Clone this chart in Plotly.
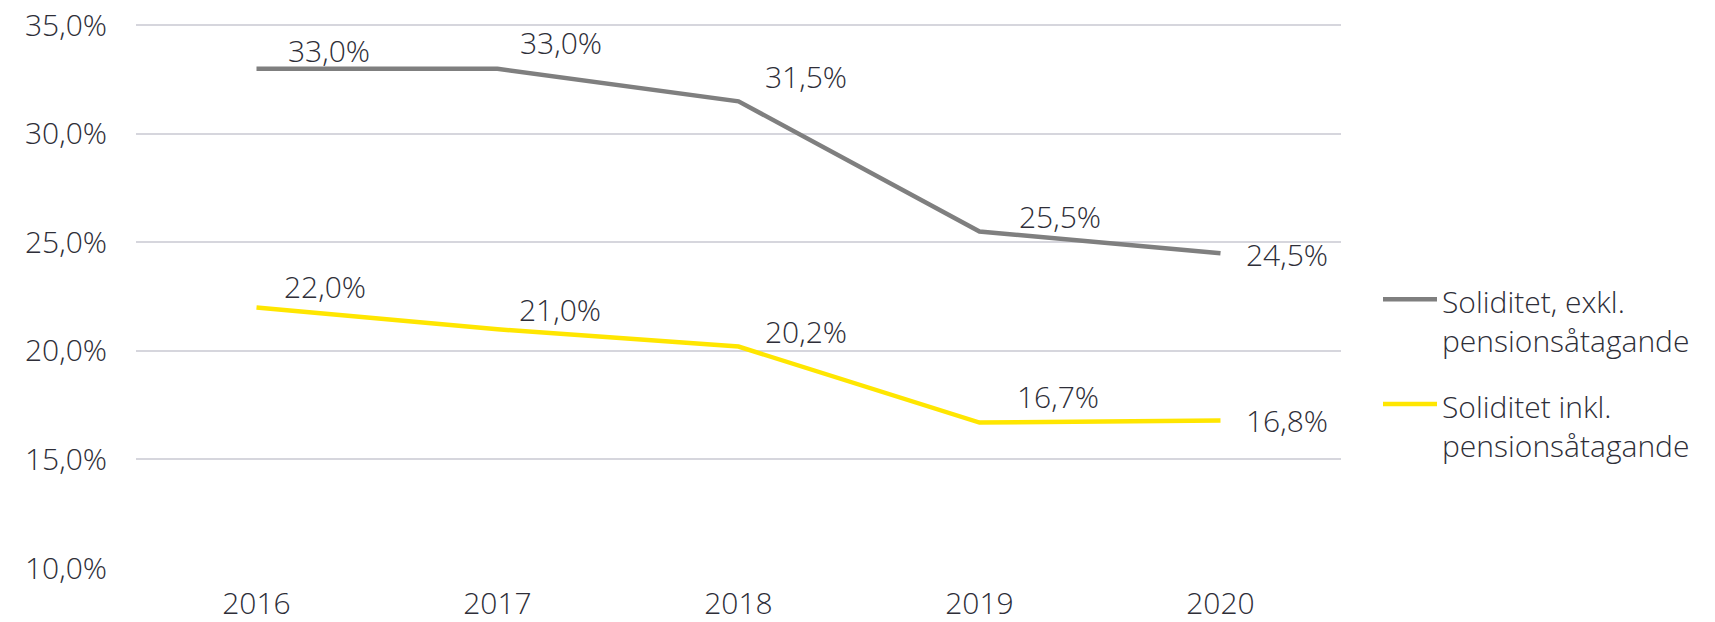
import plotly.graph_objects as go

years = ["2016", "2017", "2018", "2019", "2020"]
excl_values = [33.0, 33.0, 31.5, 25.5, 24.5]
incl_values = [22.0, 21.0, 20.2, 16.7, 16.8]
series_names = ["Soliditet, exkl.<br>pensionsåtagande", "Soliditet inkl.<br>pensionsåtagande"]
y_ticks = [10, 15, 20, 25, 30, 35]

GRAY = "#7f7f7f"
YELLOW = "#FFE600"
TEXT = "#2E2E38"
FONT = "Open Sans"
FS = 30
WEIGHT = 350
PCT = "&#37;"

def fmt(v):
    return f"{v:.1f}".replace(".", ",") + PCT

y_ticktext = [fmt(v) for v in y_ticks]

# label offsets in pixels (style only)
excl_offsets = [(72, 18), (63, 26), (67, 25), (80, 15), (66, -1)]
incl_offsets = [(68, 21), (62, 20), (67, 15), (78, 26), (66, 0)]

fig = go.Figure()
fig.add_trace(go.Scatter(x=years, y=excl_values, mode="lines",
                         line=dict(color=GRAY, width=4.5), name=series_names[0],
                         showlegend=False))
fig.add_trace(go.Scatter(x=years, y=incl_values, mode="lines",
                         line=dict(color=YELLOW, width=4.5), name=series_names[1],
                         showlegend=False))

font_main = dict(family=FONT, size=FS, color=TEXT, weight=WEIGHT)

annotations = []
for vals, offs in ((excl_values, excl_offsets), (incl_values, incl_offsets)):
    for i, (v, (dx, dy)) in enumerate(zip(vals, offs)):
        annotations.append(dict(x=i, y=v, xref="x", yref="y", text=fmt(v),
                                showarrow=False, xanchor="center", yanchor="middle",
                                xshift=dx, yshift=dy, font=font_main))

# layout geometry (pixels)
L, R, B = 136, 1341, 568
Y_LO, Y_HI = 10, 35.2
PX_PER_UNIT = (B - 25) / (35 - 10)
T = B - (Y_HI - Y_LO) * PX_PER_UNIT
W, H = R - L, B - T
def px(x):
    return (x - L) / W
def py(y):
    return (B - y) / H

# manual legend (paper coordinates)
shapes = []
for name, color, ly in ((series_names[0], GRAY, 299), (series_names[1], YELLOW, 404)):
    shapes.append(dict(type="line", xref="paper", yref="paper",
                       x0=px(1383), x1=px(1437), y0=py(ly), y1=py(ly),
                       line=dict(color=color, width=4.5)))
    annotations.append(dict(xref="paper", yref="paper", x=px(1440), y=py(ly - 20),
                            text=name, showarrow=False, xanchor="left", yanchor="top",
                            align="left",
                            font=dict(family=FONT, size=30, color=TEXT, weight=WEIGHT)))

fig.update_layout(
    width=1715, height=622, autosize=False,
    margin=dict(l=L, r=1715 - R, t=T, b=622 - B, pad=0, autoexpand=False),
    paper_bgcolor="white", plot_bgcolor="white",
    font=font_main,
    showlegend=False,
    annotations=annotations,
    shapes=shapes,
    xaxis=dict(type="category", range=[-0.5, 4.5], showgrid=False, automargin=False,
               showline=True, linecolor="white", linewidth=3,
               ticks="outside", ticklen=7, tickcolor="rgba(0,0,0,0)",
               tickfont=font_main, zeroline=False),
    yaxis=dict(range=[Y_LO, Y_HI], tickmode="array", tickvals=y_ticks, ticktext=y_ticktext,
               showgrid=True, gridcolor="#d6d6dd", gridwidth=1.5, automargin=False,
               zeroline=False, showline=False,
               ticks="outside", ticklen=22, tickcolor="rgba(0,0,0,0)",
               tickfont=font_main),
)

fig.write_html("out.html", config={"displayModeBar": False},
               post_script="document.body.style.margin='0';")
